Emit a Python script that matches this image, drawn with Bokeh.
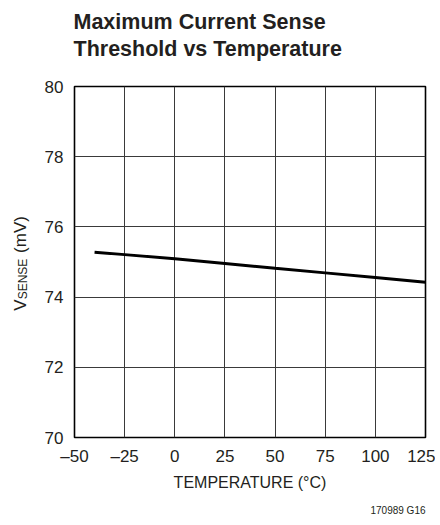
import math
from bokeh.plotting import figure
from bokeh.models import Range1d, FixedTicker
from bokeh.layouts import column, row
from bokeh.core.properties import value
from bokeh.embed import file_html
from bokeh.resources import INLINE

# ---- data ----
temperature = [-40, -25, 0, 25, 50, 75, 100, 125]
vsense = [75.28, 75.21, 75.09, 74.96, 74.82, 74.69, 74.56, 74.42]
x_ticks = [-50, -25, 0, 25, 50, 75, 100, 125]
y_ticks = [70, 72, 74, 76, 78, 80]
title_lines = ["Maximum Current Sense", "Threshold vs Temperature"]
x_label = "TEMPERATURE (°C)"
y_label_parts = ["V", "SENSE", "(mV)"]
footer = "170989 G16"

FONT = "Liberation Sans"
INK = "#231f20"
TOTAL_W = 435
LEFT_W = 32
TOP_H = 70
MAIN_H = 400
BOTTOM_H = 50


def helper(width, height):
    f = figure(width=width, height=height, output_backend="svg", toolbar_location=None,
               x_range=Range1d(0, width), y_range=Range1d(height, 0),
               x_axis_type=None, y_axis_type=None, frame_align=False,
               min_border=0, min_border_left=0, min_border_right=0,
               min_border_top=0, min_border_bottom=0)
    f.outline_line_color = None
    f.background_fill_color = "white"
    f.border_fill_color = "white"
    return f


# ---- title ----
t = helper(TOTAL_W, TOP_H)
t.text(x=[73, 73], y=[21.5, 48.5], text=title_lines, text_font=value(FONT),
       text_font_style="bold", text_font_size="21.5px", text_color=INK,
       text_baseline="alphabetic", text_align="left")

# ---- y label (rotated pieces, centred) ----
yl = helper(LEFT_W, MAIN_H)
yl.text(x=[19.5], y=[234.5], text=[y_label_parts[0]], angle=math.pi / 2,
        text_font=value(FONT), text_font_size="17px", text_color=INK,
        text_baseline="middle", text_align="center")
yl.text(x=[22], y=[208.5], text=[y_label_parts[1]], angle=math.pi / 2,
        text_font=value(FONT), text_font_size="12px", text_color=INK,
        text_baseline="middle", text_align="center")
yl.text(x=[19.5], y=[164], text=[y_label_parts[2]], angle=math.pi / 2,
        text_font=value(FONT), text_font_size="17px", text_color=INK,
        text_baseline="middle", text_align="center")

# ---- main plot ----
p = figure(width=TOTAL_W - LEFT_W, height=MAIN_H, output_backend="svg",
           toolbar_location=None,
           x_range=Range1d(-50, 125), y_range=Range1d(70, 80),
           min_border_left=42, min_border_right=10,
           min_border_top=16, min_border_bottom=33)
p.background_fill_color = "white"
p.border_fill_color = "white"
p.outline_line_color = "black"
p.outline_line_width = 1.6

p.xaxis.ticker = FixedTicker(ticks=x_ticks)
p.yaxis.ticker = FixedTicker(ticks=y_ticks)
p.xaxis.major_label_overrides = {tk: (("–" + str(-tk)) if tk < 0 else str(tk)) for tk in x_ticks}
for ax in (p.xaxis[0], p.yaxis[0]):
    ax.axis_line_color = None
    ax.major_tick_line_color = None
    ax.minor_tick_line_color = None
    ax.major_tick_out = 0
    ax.major_tick_in = 0
    ax.minor_tick_out = 0
    ax.minor_tick_in = 0
    ax.major_label_text_font = FONT
    ax.major_label_text_font_size = "17px"
    ax.major_label_text_color = INK
p.yaxis.major_label_standoff = 11
p.xaxis.major_label_standoff = 9

for g in (p.xgrid[0], p.ygrid[0]):
    g.grid_line_color = "#3a3a3a"
    g.grid_line_width = 1
    g.grid_line_alpha = 1

p.line(temperature, vsense, line_color="black", line_width=3)

# ---- bottom: x label and footer ----
b = helper(TOTAL_W, BOTTOM_H)
b.text(x=[249.5], y=[11.5], text=[x_label], text_font=value(FONT),
       text_font_size="16px", text_color=INK,
       text_baseline="alphabetic", text_align="center")
b.text(x=[425], y=[39.5], text=[footer], text_font=value(FONT),
       text_font_size="10px", text_color=INK,
       text_baseline="alphabetic", text_align="right")

layout = column(t, row(yl, p), b)
open("out.html", "w").write(file_html(layout, INLINE))
